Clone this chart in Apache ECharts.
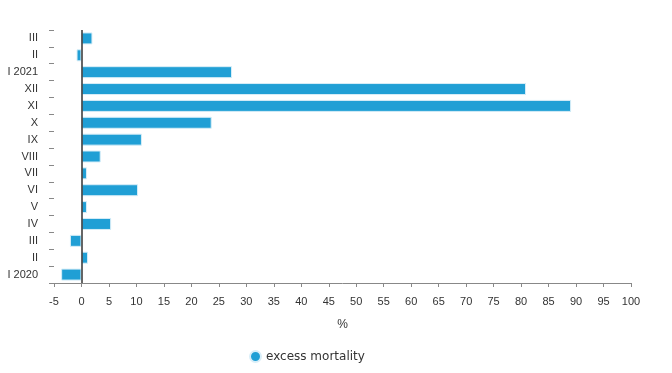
<!DOCTYPE html>
<html><head><meta charset="utf-8">
<script src="https://cdn.jsdelivr.net/npm/echarts@6/dist/echarts.min.js"></script>
<style>html,body{margin:0;padding:0;background:#fff}#c{width:672px;height:373px}</style>
</head><body><div id="c"></div>
<script>
const categories = ['I 2020','II','III','IV','V','VI','VII','VIII','IX','X','XI','XII','I 2021','II','III'];
const excessMortality = [-3.7, 1.2, -2.1, 5.4, 1.0, 10.3, 1.0, 3.5, 11.0, 23.7, 89.1, 80.9, 27.4, -0.9, 2.0];
const seriesName = 'excess mortality';
const xMin = -5, xMax = 100, xStep = 5;

const chart = echarts.init(document.getElementById('c'));
chart.setOption({
  animation: false,
  textStyle: {fontFamily: 'Liberation Sans, Arial, sans-serif'},
  grid: {left: 54, right: 41, top: 30, bottom: 90, containLabel: false},
  legend: {
    data: [{name: seriesName, icon: 'circle'}],
    left: 244, top: 345, itemWidth: 11, itemHeight: 11, itemGap: 7,
    textStyle: {fontFamily: 'DejaVu Sans, Verdana, sans-serif', fontSize: 12, color: '#333'}
  },
  xAxis: {
    type: 'value', min: xMin, max: xMax, interval: xStep,
    name: '%', nameLocation: 'middle', nameGap: 36,
    nameTextStyle: {fontSize: 12, color: '#333'},
    axisLine: {show: true, onZero: false, lineStyle: {color: '#888'}},
    axisTick: {show: true, length: 4, lineStyle: {color: '#888'}},
    axisLabel: {fontSize: 11, color: '#333', margin: 13},
    splitLine: {show: false}
  },
  yAxis: {
    type: 'category', data: categories,
    axisLine: {show: false, onZero: false},
    axisTick: {show: true, length: 5, lineStyle: {color: '#888'}},
    axisLabel: {fontSize: 11, color: '#333', margin: 16},
    splitLine: {show: false}
  },
  series: [{
    name: seriesName, type: 'bar', data: excessMortality,
    barWidth: 12,
    itemStyle: {color: '#209fd5', borderColor: '#d8eef8', borderWidth: 1},
    markLine: {
      silent: true, symbol: 'none', label: {show: false},
      lineStyle: {color: '#333', type: 'solid', width: 1.5},
      data: [{xAxis: 0}]
    }
  }]
});
</script></body></html>
